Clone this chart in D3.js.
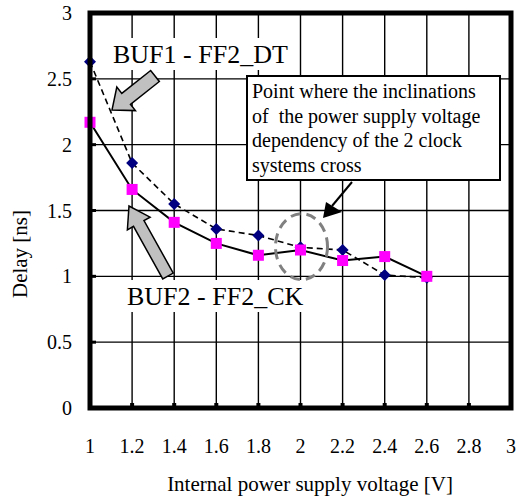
<!DOCTYPE html>
<html>
<head>
<meta charset="utf-8">
<script src="https://cdn.jsdelivr.net/npm/d3@7"></script>
<style>
  html, body { margin: 0; padding: 0; background: #fff; }
  svg { display: block; font-family: "Liberation Serif", "Times New Roman", serif; }
</style>
</head>
<body>
<svg id="chart" width="519" height="499"></svg>
<script>
// Supply voltage sweep (V)
const voltages = [1.0, 1.2, 1.4, 1.6, 1.8, 2.0, 2.2, 2.4, 2.6];
// Delay of each clock path (ns)
const delayBuf1 = [2.63, 1.86, 1.55, 1.36, 1.31, 1.22, 1.20, 1.01, 0.99];
const delayBuf2 = [2.17, 1.66, 1.41, 1.25, 1.16, 1.20, 1.12, 1.15, 1.00];
const seriesNames = ["BUF1 - FF2_DT", "BUF2 - FF2_CK"];
// Axis ticks
const xTicks = [1, 1.2, 1.4, 1.6, 1.8, 2, 2.2, 2.4, 2.6, 2.8, 3];
const yTicks = [0, 0.5, 1, 1.5, 2, 2.5, 3];
const noteLines = [
  "Point where the inclinations",
  "of\u00a0\u00a0the power supply voltage",
  "dependency of the 2 clock",
  "systems cross"
];
const crossPoint = [2.0, 1.21];

const svg = d3.select("#chart");
const x = d3.scaleLinear().domain([1, 3]).range([90, 511]);
const y = d3.scaleLinear().domain([0, 3]).range([408, 13]);

// Grid
const grid = svg.append("g").attr("stroke", "#000").attr("stroke-width", 1.4);
grid.selectAll("line.v").data(xTicks.slice(1, -1)).join("line")
  .attr("x1", d => x(d)).attr("x2", d => x(d))
  .attr("y1", y(3)).attr("y2", y(0));
grid.selectAll("line.h").data(yTicks.slice(1, -1)).join("line")
  .attr("x1", x(1)).attr("x2", x(3))
  .attr("y1", d => y(d)).attr("y2", d => y(d));

// Small tick stubs inside the frame
svg.append("g").selectAll("rect").data(yTicks.slice(1, -1)).join("rect")
  .attr("x", x(1)).attr("y", d => y(d) - 1.5).attr("width", 6).attr("height", 3).attr("fill", "#000");
svg.append("g").selectAll("rect").data(xTicks.slice(1, -1)).join("rect")
  .attr("x", d => x(d) - 2).attr("y", y(0) - 5).attr("width", 4).attr("height", 5).attr("fill", "#000");

// Series labels on white backgrounds
svg.append("rect").attr("x", 106).attr("y", 38).attr("width", 190).attr("height", 32).attr("fill", "#fff");
svg.append("text").attr("x", 113).attr("y", 63).attr("font-size", 26).text(seriesNames[0]);
svg.append("rect").attr("x", 122).attr("y", 280).attr("width", 188).attr("height", 32).attr("fill", "#fff");
svg.append("text").attr("x", 127).attr("y", 305).attr("font-size", 26).text(seriesNames[1]);

// Block arrows pointing at the curves
function blockArrow(tail, tip, shaftW, headW, headL) {
  const dx = tip[0] - tail[0], dy = tip[1] - tail[1];
  const len = Math.hypot(dx, dy);
  const ux = dx / len, uy = dy / len, nx = -uy, ny = ux;
  const bx = tip[0] - ux * headL, by = tip[1] - uy * headL;
  const p = (cx, cy, w) => [cx + nx * w / 2, cy + ny * w / 2];
  const q = (cx, cy, w) => [cx - nx * w / 2, cy - ny * w / 2];
  return [p(tail[0], tail[1], shaftW), p(bx, by, shaftW), p(bx, by, headW), tip,
          q(bx, by, headW), q(bx, by, shaftW), q(tail[0], tail[1], shaftW)];
}
const arrows = [
  blockArrow([155, 76], [112, 110], 14, 30, 18),
  blockArrow([168, 276], [129, 206], 12, 26, 20)
];
svg.append("g").selectAll("polygon").data(arrows).join("polygon")
  .attr("points", d => d.map(p => p.join(",")).join(" "))
  .attr("fill", "#c0c0c0").attr("stroke", "#000").attr("stroke-width", 1.5)
  .attr("stroke-linejoin", "miter");

// Series lines
const line = d3.line().x(d => x(d[0])).y(d => y(d[1]));
const pts1 = voltages.map((v, i) => [v, delayBuf1[i]]);
const pts2 = voltages.map((v, i) => [v, delayBuf2[i]]);
svg.append("path").attr("d", line(pts1)).attr("fill", "none")
  .attr("stroke", "#000").attr("stroke-width", 1.6).attr("stroke-dasharray", "6,4");
svg.append("path").attr("d", line(pts2)).attr("fill", "none")
  .attr("stroke", "#000").attr("stroke-width", 2);

// Markers: navy diamonds and magenta squares
svg.append("g").selectAll("path").data(pts1).join("path")
  .attr("d", d3.symbol(d3.symbolSquare, 72))
  .attr("transform", d => `translate(${x(d[0])},${y(d[1])}) rotate(45)`)
  .attr("fill", "#000080");
svg.append("g").selectAll("rect").data(pts2).join("rect")
  .attr("x", d => x(d[0]) - 5.5).attr("y", d => y(d[1]) - 5.5)
  .attr("width", 11).attr("height", 11).attr("fill", "#ff00ff");

// Crossing highlight
svg.append("ellipse")
  .attr("cx", x(crossPoint[0]) + 1).attr("cy", y(crossPoint[1]) - 2)
  .attr("rx", 26).attr("ry", 33)
  .attr("fill", "none").attr("stroke", "#808080")
  .attr("stroke-width", 3).attr("stroke-dasharray", "10,6");

// Note box
svg.append("rect").attr("x", 247).attr("y", 76).attr("width", 253).attr("height", 104)
  .attr("fill", "#fff").attr("stroke", "#000").attr("stroke-width", 2);
svg.append("g").selectAll("text").data(noteLines).join("text")
  .attr("x", 252).attr("y", (d, i) => 98 + i * 24.5)
  .attr("font-size", 20).text(d => d);

// Pointer from the note to the crossing
svg.append("line").attr("x1", 352).attr("y1", 182).attr("x2", 332).attr("y2", 206)
  .attr("stroke", "#000").attr("stroke-width", 2);
svg.append("polygon").attr("points", "323,218 326,202 342,212").attr("fill", "#000");

// Frame
svg.append("rect").attr("x", x(1)).attr("y", y(3)).attr("width", x(3) - x(1)).attr("height", y(0) - y(3))
  .attr("fill", "none").attr("stroke", "#000").attr("stroke-width", 5);

// Tick labels
svg.append("g").selectAll("text").data(yTicks).join("text")
  .attr("x", 72).attr("y", d => y(d) + 7).attr("text-anchor", "end")
  .attr("font-size", 20).text(d => d);
svg.append("g").selectAll("text").data(xTicks).join("text")
  .attr("x", d => x(d)).attr("y", 453).attr("text-anchor", "middle")
  .attr("font-size", 20).text(d => d);

// Axis titles
svg.append("text").attr("x", 310).attr("y", 491).attr("text-anchor", "middle")
  .attr("font-size", 21).text("Internal power supply voltage [V]");
svg.append("text").attr("transform", "translate(27,254) rotate(-90)")
  .attr("text-anchor", "middle").attr("font-size", 21).text("Delay [ns]");
</script>
</body>
</html>
